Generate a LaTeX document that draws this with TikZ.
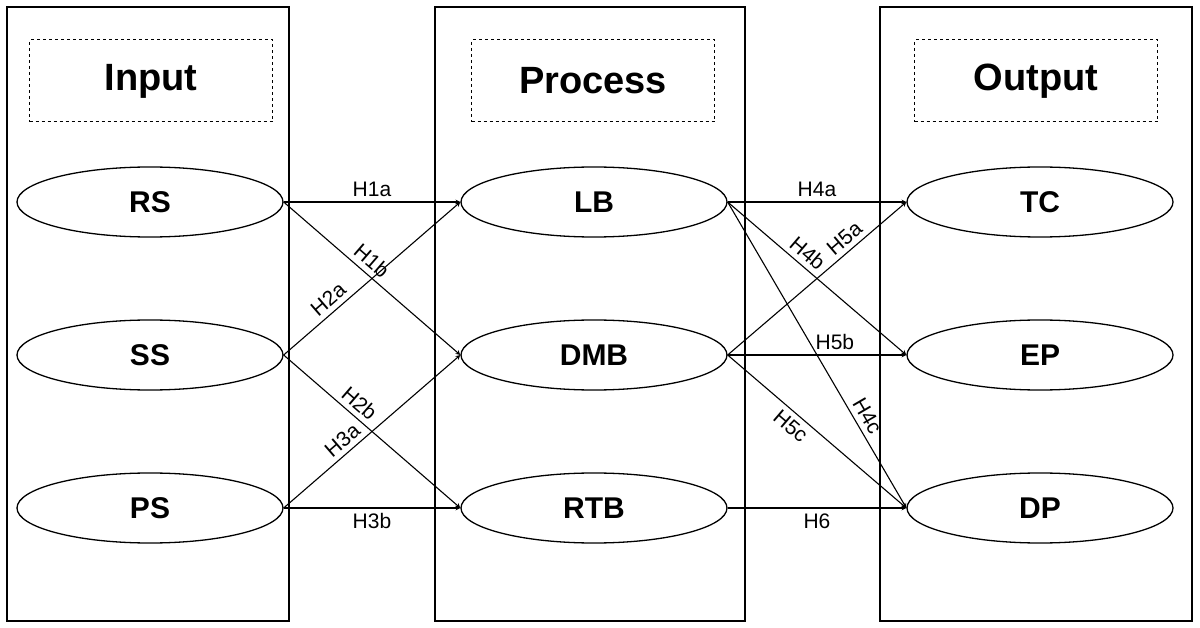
\documentclass[tikz,border=0pt]{standalone}
\usepackage{fontspec}
\setmainfont{Liberation Sans}
\usetikzlibrary{shapes.geometric}
\begin{document}
\begin{tikzpicture}[x=1pt,y=-1pt,
   col/.style={draw, line width=1.3pt},
   head/.style={draw, dashed, line width=1pt, minimum width=243pt, minimum height=82pt, font=\bfseries\fontsize{38}{44}\selectfont},
   var/.style={draw, line width=1.3pt, ellipse, minimum width=266pt, minimum height=70pt, inner sep=0pt, font=\bfseries\fontsize{30}{34}\selectfont},
   path/.style={draw, line width=1.1pt, ->, >=stealth},
   hyp/.style={font=\fontsize{21}{24}\selectfont, inner sep=5pt}]
\useasboundingbox (0,0) rectangle (1200,628);

\draw[col] (7,7) rectangle (289,621);
\draw[col] (435,7) rectangle (745,621);
\draw[col] (880,7) rectangle (1192,621);

\node[head] (input) at (151,81) {Input};
\node[head] (process) at (593,81) {Process};
\node[head] (output) at (1036,81) {Output};

\node[var] (RS) at (150,202) {RS};
\node[var] (SS) at (150,355) {SS};
\node[var] (PS) at (150,508) {PS};
\node[var] (LB) at (594,202) {LB};
\node[var] (DMB) at (594,355) {DMB};
\node[var] (RTB) at (594,508) {RTB};
\node[var] (TC) at (1040,202) {TC};
\node[var] (EP) at (1040,355) {EP};
\node[var] (DP) at (1040,508) {DP};

\draw[path] (RS.east) -- node[hyp, above] {H1a} (LB.west);
\draw[path] (RS.east) -- node[hyp, above, sloped, pos=0.45] {H1b} (DMB.west);
\draw[path] (SS.east) -- node[hyp, above, sloped, pos=0.3] {H2a} (LB.west);
\draw[path] (SS.east) -- node[hyp, above, sloped, pos=0.38] {H2b} (RTB.west);
\draw[path] (PS.east) -- node[hyp, above, sloped, pos=0.38] {H3a} (DMB.west);
\draw[path] (PS.east) -- node[hyp, below] {H3b} (RTB.west);

\draw[path] (LB.east) -- node[hyp, above] {H4a} (TC.west);
\draw[path] (LB.east) -- node[hyp, above, sloped, pos=0.4] {H4b} (EP.west);
\draw[path] (LB.east) -- node[hyp, above, sloped, pos=0.72] {H4c} (DP.west);
\draw[path] (DMB.east) -- node[hyp, above, sloped, pos=0.7] {H5a} (TC.west);
\draw[path] (DMB.east) -- node[hyp, above, pos=0.6] {H5b} (EP.west);
\draw[path] (DMB.east) -- node[hyp, below, sloped, pos=0.4] {H5c} (DP.west);
\draw[path] (RTB.east) -- node[hyp, below] {H6} (DP.west);
\end{tikzpicture}
\end{document}
